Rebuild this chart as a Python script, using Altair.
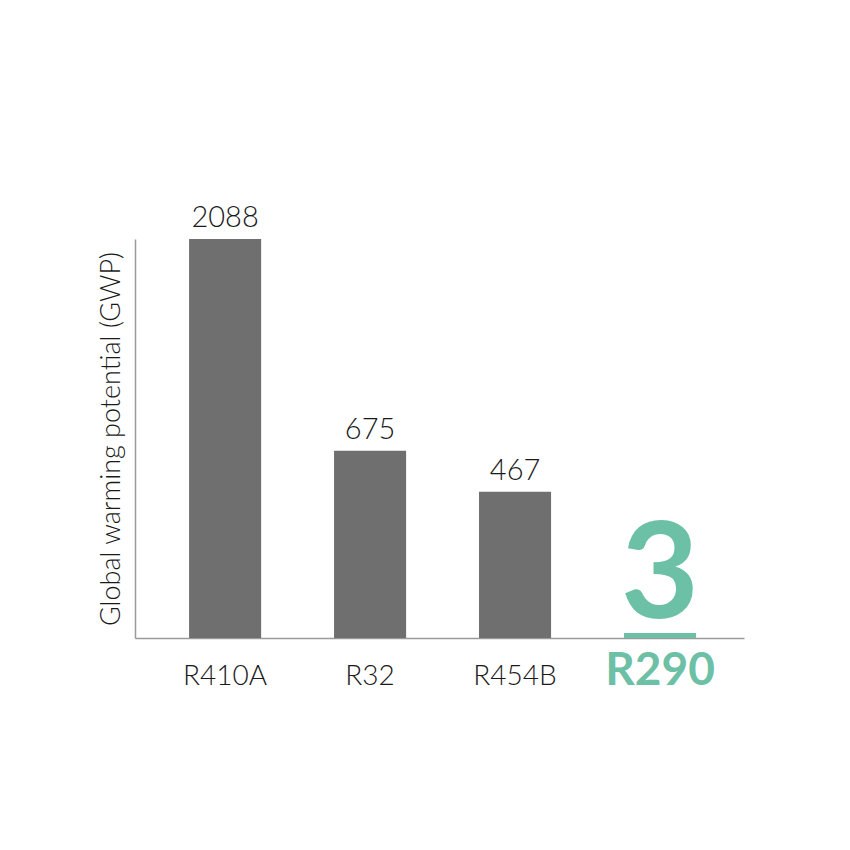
import altair as alt
import pandas as pd

# Refrigerants and their global warming potential
refrigerants = ["R410A", "R32", "R454B", "R290"]
gwp = [2088, 675, 467, 3]
highlight = [False, False, False, True]

df = pd.DataFrame({"refrigerant": refrigerants, "gwp": gwp, "highlight": highlight})

GRAY = "#6f6f6f"
TEAL = "#6cc0a6"
INK = "#1a1a1a"
AXIS = "#9a9a9a"
FONT = "Lato"

x_enc = alt.X(
    "refrigerant:N",
    sort=refrigerants,
    scale=alt.Scale(paddingInner=0.503, paddingOuter=0.352, align=0.53),
    axis=alt.Axis(
        title=None,
        ticks=False,
        tickSize=0,
        labelAngle=0,
        labelPadding=46,
        labelBaseline="alphabetic",
        labelFont=FONT,
        labelFontSize={"condition": {"test": "datum.value == 'R290'", "value": 46}, "value": 28},
        labelFontWeight={"condition": {"test": "datum.value == 'R290'", "value": "bold"}, "value": 300},
        labelColor={"condition": {"test": "datum.value == 'R290'", "value": TEAL}, "value": INK},
        domainColor=AXIS,
        domainWidth=1.5,
        grid=False,
    ),
)

y_enc = alt.Y(
    "gwp:Q",
    scale=alt.Scale(type="pow", exponent=0.67, domain=[0, 2088], nice=False, zero=True),
    axis=alt.Axis(
        title="Global warming potential (GWP)",
        labels=False,
        ticks=False,
        grid=False,
        domainColor=AXIS,
        domainWidth=1.5,
        titleFont=FONT,
        titleFontSize=27,
        titleFontWeight=300,
        titleColor=INK,
        titlePadding=10,
    ),
)

base = alt.Chart(df).encode(x=x_enc, y=y_enc)

bars = base.mark_bar().encode(
    color=alt.Color(
        "highlight:N",
        scale=alt.Scale(domain=[False, True], range=[GRAY, TEAL]),
        legend=None,
    )
)

value_labels = (
    base.transform_filter("!datum.highlight")
    .mark_text(dy=-12, baseline="alphabetic", font=FONT, fontSize=29, fontWeight=300, color=INK)
    .encode(text=alt.Text("gwp:Q"))
)

big_label = (
    base.transform_filter("datum.highlight")
    .mark_text(dy=-15, baseline="alphabetic", font=FONT, fontSize=135, fontWeight="bold", color=TEAL)
    .encode(text=alt.Text("gwp:Q"))
)

chart = (
    alt.layer(bars, value_labels, big_label)
    .properties(
        width=609,
        height=399,
        padding={"left": 135, "top": 239, "right": 106, "bottom": 212},
        autosize="none",
        background="white",
    )
    .configure_view(stroke=None)
)

chart.save("out.html", embed_options={"renderer": "svg", "actions": False})
